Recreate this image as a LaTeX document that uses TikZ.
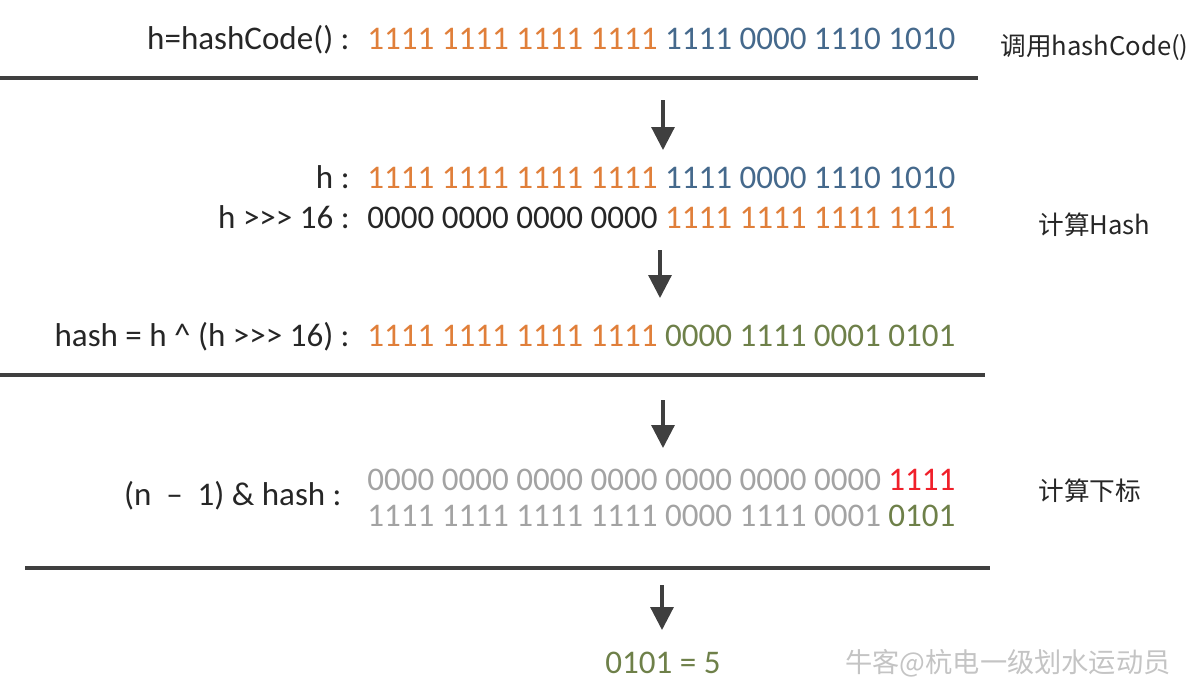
\documentclass[tikz,border=0pt]{standalone}
\usepackage{fontspec}
\setmainfont{Carlito}
\newfontfamily\cjk{Noto Sans CJK SC}
\usetikzlibrary{arrows.meta}
\definecolor{bitorange}{HTML}{E07F3A}
\definecolor{bitblue}{HTML}{45698C}
\definecolor{bitgreen}{HTML}{6E8049}
\definecolor{bitgray}{HTML}{A3A3A3}
\definecolor{bitred}{HTML}{F0202A}
\definecolor{labelgray}{HTML}{262626}
\definecolor{rulegray}{HTML}{3F3F3F}
\definecolor{markgray}{HTML}{C4C4C4}

\begin{document}
\begin{tikzpicture}[x=0.02cm, y=-0.02cm,
    lbl/.style={anchor=base east, text=labelgray, inner sep=0pt, font=\fontsize{18.8}{22}\selectfont},
    bits/.style={anchor=base west, inner sep=0pt, font=\fontsize{18.8}{22}\selectfont},
    note/.style={anchor=base west, text=labelgray, inner sep=0pt, font=\cjk\fontsize{14.6}{18}\selectfont},
    rule/.style={line width=2pt, draw=rulegray},
    down/.style={-{Triangle[width=13pt,length=13pt]}, line width=1.8pt, draw=rulegray}]
    \useasboundingbox (0,0) rectangle (1198,684);

    % Step 1: hashCode
    \node[lbl] (hcLbl) at (350, 49) {h=hashCode() :};
    \node[bits] (hcBits) at (367, 49) {\color{bitorange}1111 1111 1111 1111 \color{bitblue}1111 0000 1110 1010};
    \node[note] (hcNote) at (1000, 55) {调用hashCode()};
    \draw[rule] (0, 78) -- (978, 78);

    % Arrow
    \coordinate (a1s) at (663, 100);
    \coordinate (a1e) at (663, 150);
    \draw[down] (a1s) -- (a1e);

    % Step 2: hash
    \node[lbl] (hLbl) at (350, 188) {h :};
    \node[bits] (hBits) at (367, 188) {\color{bitorange}1111 1111 1111 1111 \color{bitblue}1111 0000 1110 1010};
    \node[lbl] (shLbl) at (350, 228) {h >{}>{}> 16 :};
    \node[bits] (shBits) at (367, 228) {\color{labelgray}0000 0000 0000 0000 \color{bitorange}1111 1111 1111 1111};
    \node[note] (hashNote) at (1038, 234) {计算Hash};

    \coordinate (a2s) at (660, 250);
    \coordinate (a2e) at (660, 298);
    \draw[down] (a2s) -- (a2e);

    \node[lbl] (xLbl) at (350, 346) {hash = h \^{} (h >{}>{}> 16) :};
    \node[bits] (xBits) at (367, 346) {\color{bitorange}1111 1111 1111 1111 \color{bitgreen}0000 1111 0001 0101};
    \draw[rule] (0, 375) -- (985, 375);

    \coordinate (a3s) at (663, 400);
    \coordinate (a3e) at (663, 448);
    \draw[down] (a3s) -- (a3e);

    % Step 3: index
    \node[lbl] (idxLbl) at (342, 505) {(n\hspace{0.45em}--\hspace{0.45em}1) \& hash :};
    \node[bits] (maskBits) at (367, 490) {\color{bitgray}0000 0000 0000 0000 0000 0000 0000 \color{bitred}1111};
    \node[bits] (hashBits) at (367, 526) {\color{bitgray}1111 1111 1111 1111 0000 1111 0001 \color{bitgreen}0101};
    \node[note] (idxNote) at (1038, 500) {计算下标};
    \draw[rule] (25, 568) -- (990, 568);

    \coordinate (a4s) at (662, 585);
    \coordinate (a4e) at (662, 630);
    \draw[down] (a4s) -- (a4e);

    % Result
    \node[bits, anchor=base, text=bitgreen] (res) at (663, 673) {0101 = 5};
    \node[note, text=markgray, font=\cjk\fontsize{15.5}{18}\selectfont] (mark) at (845, 672) {牛客@杭电一级划水运动员};
\end{tikzpicture}
\end{document}
